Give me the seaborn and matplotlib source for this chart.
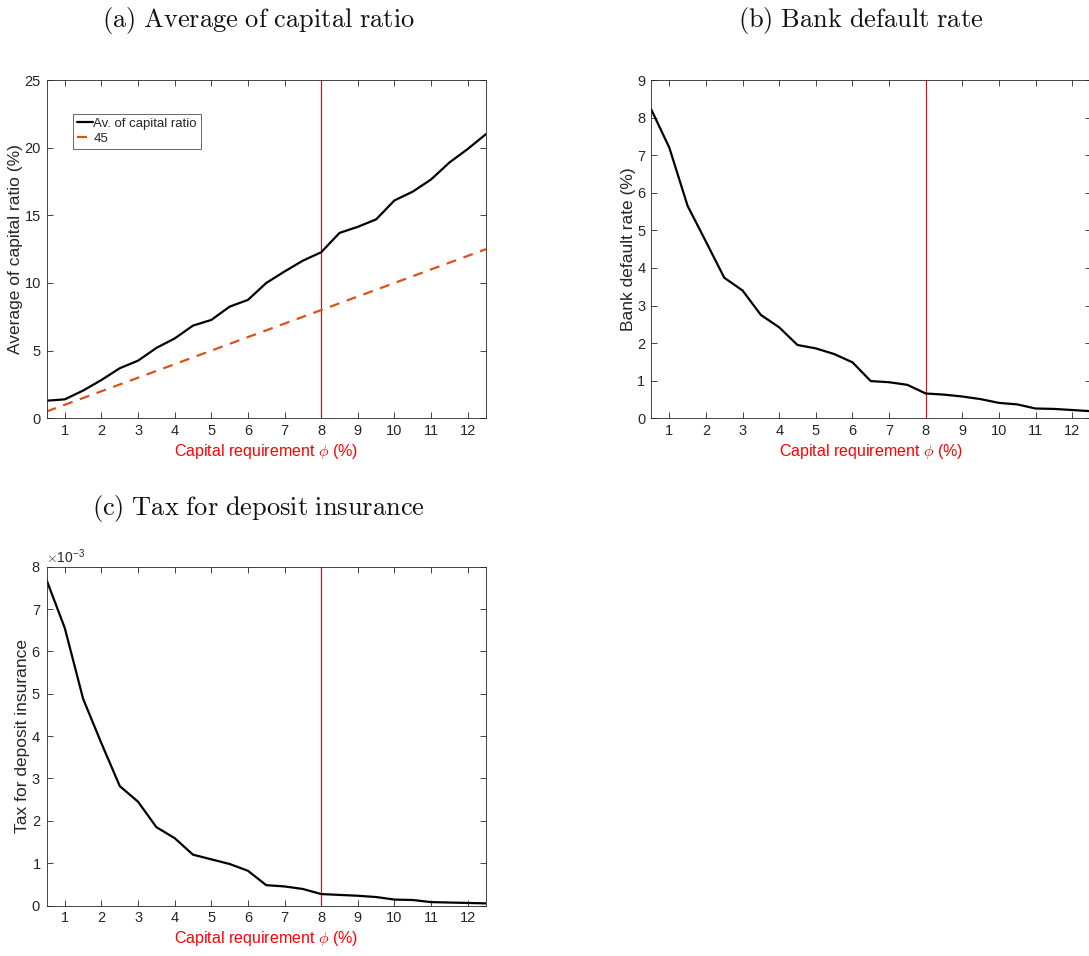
import numpy as np
import pandas as pd
import matplotlib
matplotlib.use("Agg")
import matplotlib.pyplot as plt
import seaborn as sns
from matplotlib.ticker import ScalarFormatter

# ---- data ----
phi = [0.5, 1.0, 1.5, 2.0, 2.5, 3.0, 3.5, 4.0, 4.5, 5.0, 5.5, 6.0, 6.5,
       7.0, 7.5, 8.0, 8.5, 9.0, 9.5, 10.0, 10.5, 11.0, 11.5, 12.0, 12.5]
avg_capital_ratio = [1.3, 1.4, 2.05, 2.83, 3.7, 4.26, 5.2, 5.9, 6.85, 7.27,
                     8.25, 8.75, 10.0, 10.85, 11.65, 12.27, 13.7, 14.15, 14.7,
                     16.1, 16.75, 17.65, 18.9, 19.9, 21.0]
line_45 = [0.5, 1.0, 1.5, 2.0, 2.5, 3.0, 3.5, 4.0, 4.5, 5.0, 5.5, 6.0, 6.5,
           7.0, 7.5, 8.0, 8.5, 9.0, 9.5, 10.0, 10.5, 11.0, 11.5, 12.0, 12.5]
default_rate = [8.23, 7.2, 5.65, 4.7, 3.74, 3.4, 2.75, 2.42, 1.95, 1.86,
                1.71, 1.49, 0.99, 0.96, 0.89, 0.66, 0.63, 0.58, 0.51, 0.41,
                0.37, 0.26, 0.25, 0.22, 0.19]
tax_deposit = [7.69e-3, 6.55e-3, 4.88e-3, 3.83e-3, 2.82e-3, 2.45e-3, 1.85e-3,
               1.59e-3, 1.2e-3, 1.09e-3, 0.98e-3, 0.82e-3, 0.48e-3, 0.45e-3,
               0.39e-3, 0.27e-3, 0.25e-3, 0.23e-3, 0.2e-3, 0.14e-3, 0.13e-3,
               0.08e-3, 0.07e-3, 0.06e-3, 0.05e-3]
x_ticks = [1, 2, 3, 4, 5, 6, 7, 8, 9, 10, 11, 12]
vline_x = 8

titles = ["(a) Average of capital ratio", "(b) Bank default rate",
          "(c) Tax for deposit insurance"]
ylabels = ["Average of capital ratio (%)", "Bank default rate (%)",
           "Tax for deposit insurance"]
xlabel = r"Capital requirement $\phi$ (%)"

sns.set_theme(style="white")
plt.rcParams["font.family"] = ["Liberation Sans", "DejaVu Sans"]
plt.rcParams["mathtext.fontset"] = "cm"
plt.rcParams["axes.edgecolor"] = "#262626"
plt.rcParams["axes.linewidth"] = 0.6

fig = plt.figure(figsize=(10.89, 9.56), dpi=100)
W, H = 1089, 956
def pos(l, t, r, b):
    return [l / W, 1 - b / H, (r - l) / W, (b - t) / H]

ax_a = fig.add_axes(pos(46.5, 80, 486, 418.3))
ax_b = fig.add_axes(pos(651, 80, 1090.5, 418.3))
ax_c = fig.add_axes(pos(46.5, 566.7, 486, 905.5))

df = pd.DataFrame({"phi": phi, "avg": avg_capital_ratio, "l45": line_45,
                   "dr": default_rate, "tax": tax_deposit})

sns.lineplot(data=df, x="phi", y="avg", ax=ax_a, color="black", lw=1.6,
             label="Av. of capital ratio")
sns.lineplot(data=df, x="phi", y="l45", ax=ax_a, color="#D95319", lw=1.6,
             linestyle=(0, (4.5, 3.5)), label="45")
sns.lineplot(data=df, x="phi", y="dr", ax=ax_b, color="black", lw=1.6)
sns.lineplot(data=df, x="phi", y="tax", ax=ax_c, color="black", lw=1.6)

ylims = [(0, 25), (0, 9), (0, 8e-3)]
yticks = [np.arange(0, 26, 5), np.arange(0, 10, 1), np.arange(0, 9, 1) * 1e-3]
title_pos = [(258, 20), (861, 20), (258, 508)]

for i, ax in enumerate([ax_a, ax_b, ax_c]):
    ax.axvline(vline_x, color="#E8000B", lw=0.8, zorder=1)
    ax.set_xlim(0.5, 12.5)
    ax.set_ylim(*ylims[i])
    ax.set_xticks(x_ticks)
    ax.set_yticks(yticks[i])
    ax.tick_params(direction="in", length=4, width=0.6, top=True, right=True,
                   bottom=True, left=True, labelsize=10.5, colors="#262626",
                   pad=4)
    ax.set_xlabel(xlabel, color="#FF0000", fontsize=11.5, labelpad=3)
    ax.set_ylabel(ylabels[i], color="#262626", fontsize=12.5, labelpad=1)
    for s in ax.spines.values():
        s.set_visible(True)
        s.set_color("#262626")
        s.set_linewidth(0.6)
    tx, ty = title_pos[i]
    t = titles[i].replace(" ", r"\ ")
    fig.text(tx / W, 1 - ty / H, r"$\mathrm{" + t + "}$", ha="center",
             va="center", fontsize=19, color="#111111")

fmt = ScalarFormatter(useMathText=True)
fmt.set_powerlimits((-2, 2))
ax_c.yaxis.set_major_formatter(fmt)
ax_c.yaxis.get_offset_text().set_fontsize(10)
ax_c.yaxis.get_offset_text().set_color("#262626")

leg = ax_a.legend(loc="upper left", bbox_to_anchor=(0.06, 0.9),
                  frameon=True, fontsize=9.5, handlelength=1.2,
                  handletextpad=0.05, borderpad=0.3, labelspacing=0.2,
                  borderaxespad=0.0, fancybox=False)
leg.get_frame().set_edgecolor("#262626")
leg.get_frame().set_linewidth(0.6)

fig.savefig("out.png", dpi=100)
